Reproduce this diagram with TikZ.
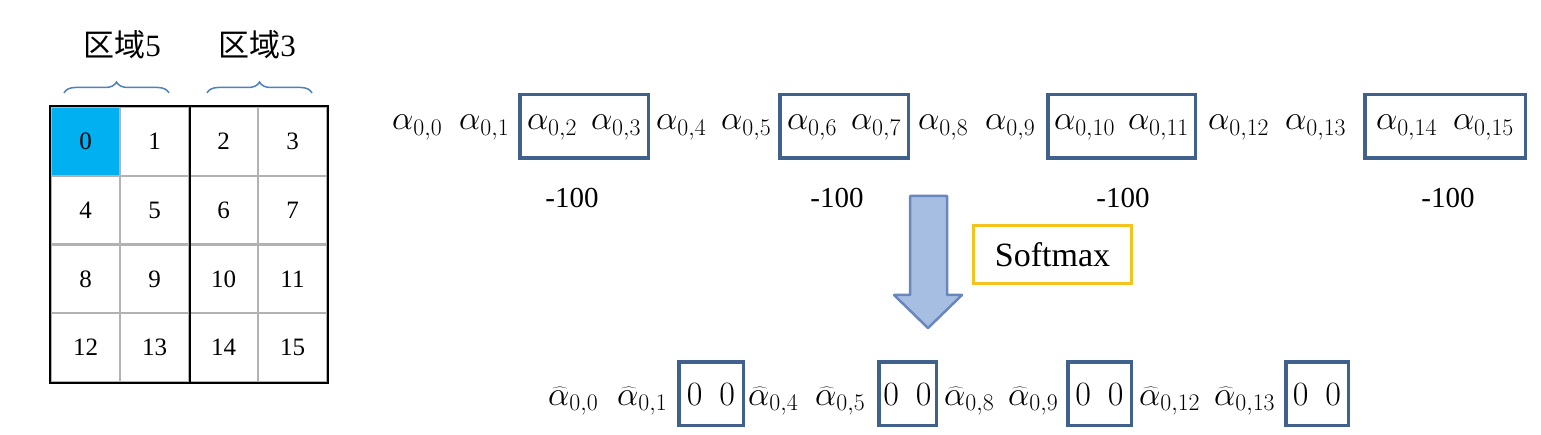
\RequirePackage{fix-cm}
\documentclass[tikz,border=0pt]{standalone}
\usepackage{fontspec}
\setmainfont{Liberation Serif}
\newfontfamily\cjk{Noto Sans CJK SC}
\usepackage{tikz}
\usetikzlibrary{decorations.pathreplacing}
\definecolor{cellblue}{RGB}{0,176,240}
\definecolor{boxblue}{RGB}{64,97,140}
\definecolor{bracecol}{RGB}{79,129,189}
\definecolor{softgold}{RGB}{245,195,30}
\definecolor{arrowfill}{RGB}{166,190,226}
\definecolor{arrowline}{RGB}{105,135,190}

\begin{document}
\begin{tikzpicture}[x=1pt,y=-1pt,
  cell/.style={draw=gray!60,line width=2pt,minimum width=69pt,minimum height=68.75pt,inner sep=0pt,font=\fontsize{25}{30}\selectfont},
  grp/.style={draw=boxblue,line width=3.5pt,minimum height=63.5pt,inner sep=0pt,text height=15pt,text depth=8pt,font=\fontsize{34}{40}\selectfont},
  zgrp/.style={draw=boxblue,line width=3.5pt,minimum height=63.5pt,inner sep=0pt,text height=23pt,text depth=0pt,font=\fontsize{34}{40}\selectfont},
  alph/.style={anchor=base west,inner sep=0pt,font=\fontsize{34}{40}\selectfont},
  num/.style={inner sep=0pt,font=\fontsize{29}{34}\selectfont},
  region/.style={font=\fontsize{31}{36}\selectfont},
  bracket/.style={bracecol,line width=1.5pt,decorate,decoration={brace,amplitude=11pt}}]
\useasboundingbox (0,0) rectangle (1541,435);

% grid of 16 cells
\node (c0) at ( 85.5,141.4) [cell,fill=cellblue] {0};
\node (c1) at (154.5,141.4) [cell] {1};
\node (c2) at (223.5,141.4) [cell] {2};
\node (c3) at (292.5,141.4) [cell] {3};
\node (c4) at ( 85.5,210.1) [cell] {4};
\node (c5) at (154.5,210.1) [cell] {5};
\node (c6) at (223.5,210.1) [cell] {6};
\node (c7) at (292.5,210.1) [cell] {7};
\node (c8) at ( 85.5,278.9) [cell] {8};
\node (c9) at (154.5,278.9) [cell] {9};
\node (c10) at (223.5,278.9) [cell] {10};
\node (c11) at (292.5,278.9) [cell] {11};
\node (c12) at ( 85.5,347.6) [cell] {12};
\node (c13) at (154.5,347.6) [cell] {13};
\node (c14) at (223.5,347.6) [cell] {14};
\node (c15) at (292.5,347.6) [cell] {15};
\draw [line width=2.5pt] (c0.north west) rectangle (c15.south east);
\draw [line width=2.5pt] (c1.north east) -- (c13.south east);

% regions
\coordinate (b5w) at (64,93);
\coordinate (b5e) at (169,93);
\coordinate (b3w) at (207,93);
\coordinate (b3e) at (312,93);
\draw [bracket] (b5w) -- (b5e);
\draw [bracket] (b3w) -- (b3e);
\node (r5) at (122,45) [region] {{\cjk 区域}5};
\node (r3) at (257,45) [region] {{\cjk 区域}3};

% attention row
\node (a0) at (392,130) [alph] {$\alpha_{0,0}$};
\node (a1) at (459,130) [alph] {$\alpha_{0,1}$};
\node (g1) at (584,126.5) [grp,minimum width=128.5pt] {$\alpha_{0,2}\hspace{14pt}\alpha_{0,3}$};
\node (a4) at (656,130) [alph] {$\alpha_{0,4}$};
\node (a5) at (721,130) [alph] {$\alpha_{0,5}$};
\node (g2) at (844,126.5) [grp,minimum width=128.5pt] {$\alpha_{0,6}\hspace{14pt}\alpha_{0,7}$};
\node (a8) at (918,130) [alph] {$\alpha_{0,8}$};
\node (a9) at (985,130) [alph] {$\alpha_{0,9}$};
\node (g3) at (1121.5,126.5) [grp,minimum width=147.5pt] {$\alpha_{0,10}\hspace{13pt}\alpha_{0,11}$};
\node (a12) at (1208,130) [alph] {$\alpha_{0,12}$};
\node (a13) at (1285,130) [alph] {$\alpha_{0,13}$};
\node (g4) at (1445,126.5) [grp,minimum width=160.5pt] {$\alpha_{0,14}\hspace{16pt}\alpha_{0,15}$\hspace{8pt}};

% masks
\node (m1) at (572,198) [num] {-100};
\node (m2) at (837,198) [num] {-100};
\node (m3) at (1123,198) [num] {-100};
\node (m4) at (1448,198) [num] {-100};

% softmax step
\draw [arrowline,fill=arrowfill,line width=2.5pt,line join=round]
  (910,196) -- (947,196) -- (947,295) -- (962,295) -- (928,328) -- (894,295) -- (910,295) -- cycle;
\node (sm) at (1052.5,254.5) [draw=softgold,line width=2.5pt,minimum width=158pt,minimum height=58pt,font=\fontsize{34}{40}\selectfont] {Softmax};

% result row
\node (h0) at (548,405) [alph] {$\widehat{\alpha}_{0,0}$};
\node (h1) at (617,405) [alph] {$\widehat{\alpha}_{0,1}$};
\node (z1) at (711,393.5) [zgrp,minimum width=64.5pt] {$0\ \ 0$};
\node (h4) at (748,405) [alph] {$\widehat{\alpha}_{0,4}$};
\node (h5) at (815,405) [alph] {$\widehat{\alpha}_{0,5}$};
\node (z2) at (907.5,393.5) [zgrp,minimum width=57.5pt] {$0\ \ 0$};
\node (h8) at (944,405) [alph] {$\widehat{\alpha}_{0,8}$};
\node (h9) at (1008,405) [alph] {$\widehat{\alpha}_{0,9}$};
\node (z3) at (1099.5,393.5) [zgrp,minimum width=63.5pt] {$0\ \ 0$};
\node (h12) at (1139,405) [alph] {$\widehat{\alpha}_{0,12}$};
\node (h13) at (1214,405) [alph] {$\widehat{\alpha}_{0,13}$};
\node (z4) at (1317,393.5) [zgrp,minimum width=62.5pt] {$0\ \ 0$};
\end{tikzpicture}
\end{document}
